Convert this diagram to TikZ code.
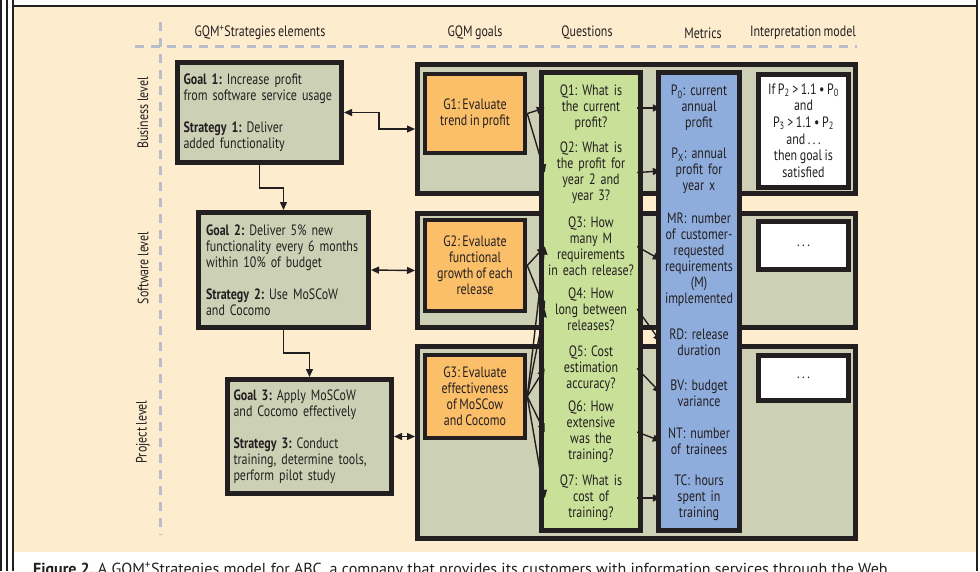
\documentclass[tikz,border=0pt]{standalone}
\usepackage{fontspec}
\setmainfont[FakeStretch=0.8, WordSpace=0.8]{PT Sans}
\newfontfamily\capfont{PT Sans}
\usetikzlibrary{arrows.meta, positioning}
\definecolor{ink}{RGB}{35,31,32}
\definecolor{paper}{RGB}{254,236,206}
\definecolor{khaki}{RGB}{204,208,180}
\definecolor{gorange}{RGB}{251,190,105}
\definecolor{qgreen}{RGB}{200,224,152}
\definecolor{mblue}{RGB}{142,172,220}
\definecolor{dashgray}{RGB}{182,190,204}
\frenchspacing

\begin{document}
\begin{tikzpicture}[
        x=1pt, y=-1pt,
        every node/.style={font=\fontsize{15}{16}\selectfont, text=ink},
        heading/.style={inner sep=0pt},
        levellabel/.style={inner sep=0pt, rotate=90},
        goalbox/.style={rectangle, draw=ink, line width=5pt, fill=khaki, align=left, inner xsep=6pt, inner ysep=0pt},
        levelbox/.style={rectangle, draw=ink, line width=5pt, fill=khaki, minimum width=438pt},
        gbox/.style={rectangle, draw=ink, line width=4.5pt, fill=gorange, minimum width=100pt, align=center},
        qcol/.style={rectangle, draw=ink, line width=5pt, fill=qgreen, minimum width=99pt, minimum height=458pt},
        mcol/.style={rectangle, draw=ink, line width=5pt, fill=mblue, minimum width=81pt, minimum height=458pt},
        imbox/.style={rectangle, draw=ink, line width=5pt, fill=white, minimum width=90pt, align=center},
        qtext/.style={text width=92pt, align=center, inner sep=0pt},
        mtext/.style={text width=76pt, align=center, inner sep=0pt},
        guide/.style={dashgray, line width=3pt, dash pattern=on 9pt off 7pt},
        frame/.style={ink, line width=1.5pt},
        conn/.style={arrows=-{Triangle[length=8pt,width=7pt]}, line width=1.4pt, draw=ink},
        dconn/.style={arrows={Triangle[length=8pt,width=7pt]}-{Triangle[length=8pt,width=7pt]}, line width=1.4pt, draw=ink}
        ]

        \useasboundingbox [fill=white] (0,0) rectangle (980,571);
        \fill [paper] (13,6) rectangle (977,552);
        \draw [frame] (13,6) -- (977,6);
        \draw [frame] (1,0) -- (1,571);
        \draw [frame] (7,0) -- (7,571);
        \draw [frame] (13,0) -- (13,571);
        \draw [frame] (977,0) -- (977,571);

        \draw [guide] (135,46.5) -- (857,46.5);
        \draw [guide] (160,22) -- (160,535);

        \node (hdelem) [heading] at (260,33)  {GQM\textsuperscript{+}Strategies elements};
        \node (hdgoal) [heading] at (475,33)  {GQM goals};
        \node (hdq)    [heading] at (587,33)  {Questions};
        \node (hdm)    [heading] at (703,33)  {Metrics};
        \node (hdim)   [heading] at (803,33)  {Interpretation model};

        \node (lvbus)  [levellabel] at (143,113) {Business level};
        \node (lvsw)   [levellabel] at (143,268) {Software level};
        \node (lvprj)  [levellabel] at (143,432) {Project level};

        \node (lev1) [levelbox, minimum height=129pt] at (636.5,129)   {};
        \node (lev2) [levelbox, minimum height=114pt] at (636.5,270.5) {};
        \node (lev3) [levelbox, minimum height=192pt] at (636.5,442.5) {};

        \node (qcolumn) [qcol] at (591,301.5) {};
        \node (mcolumn) [mcol] at (699,301.5) {};

        \node (g1) [gbox, minimum height=79pt] at (475,113.5) {G1: Evaluate\\trend in profit};
        \node (g2) [gbox, minimum height=91pt] at (475,265.5) {G2: Evaluate\\functional\\growth of each\\release};
        \node (g3) [gbox, minimum height=83pt] at (475,396.5) {G3: Evaluate\\effectiveness\\of MoSCow\\and Cocomo};

        \node (im1) [imbox, minimum height=113pt, font=\fontsize{15}{16.6}\selectfont] at (803.5,130.5) {If\,P\textsubscript{2} > 1.1 • P\textsubscript{0}\\and\\P\textsubscript{3} > 1.1 • P\textsubscript{2}\\and . . .\\then goal is\\satisfied};
        \node (im2) [imbox, minimum height=48pt]  at (803.5,245.5) {. . .};
        \node (im3) [imbox, minimum height=45pt]  at (803.5,378)   {. . .};

        \node (goal1) [goalbox, text width=152pt, minimum height=100pt] at (259.5,112.5)
            {\textbf{Goal 1:} Increase profit\\from software service usage\\[16pt]\textbf{Strategy 1:} Deliver\\added functionality};
        \node (goal2) [goalbox, text width=155pt, inner xsep=7.5pt, minimum height=115pt] at (283.5,270)
            {\textbf{Goal 2:} Deliver 5\% new\\functionality every 6 months\\within 10\% of budget\\[16pt]\textbf{Strategy 2:} Use MoSCoW\\and Cocomo};
        \node (goal3) [goalbox, text width=152pt, minimum height=114pt] at (309.5,436.5)
            {\textbf{Goal 3:} Apply MoSCoW\\and Cocomo effectively\\[16pt]\textbf{Strategy 3:} Conduct\\training, determine tools,\\perform pilot study};

        \node (q1) [qtext] at (591,108)   {Q1: What is\\the current\\profit?};
        \node (q2) [qtext] at (591,172.5) {Q2: What is\\the profit for\\year 2 and\\year 3?};
        \node (q3) [qtext] at (591,246.5) {Q3: How\\many M\\requirements\\in each release?};
        \node (q4) [qtext] at (591,309)   {Q4: How\\long between\\releases?};
        \node (q5) [qtext] at (591,368.5) {Q5: Cost\\estimation\\accuracy?};
        \node (q6) [qtext] at (591,432)   {Q6: How\\extensive\\was the\\training?};
        \node (q7) [qtext] at (591,498)   {Q7: What is\\cost of\\training?};

        \node (m1) [mtext] at (699,108) {P\textsubscript{0}: current\\annual\\profit};
        \node (m2) [mtext] at (699,171) {P\textsubscript{X}: annual\\profit for\\year x};
        \node (m3) [mtext] at (699,260) {MR: number\\of customer-\\requested\\requirements\\(M)\\implemented};
        \node (m4) [mtext] at (699,342) {RD: release\\duration};
        \node (m5) [mtext] at (699,393) {BV: budget\\variance};
        \node (m6) [mtext] at (699,441) {NT: number\\of trainees};
        \node (m7) [mtext] at (699,498) {TC: hours\\spent in\\training};

        \node (caption) [anchor=north west, inner sep=0pt, font=\capfont\fontsize{16}{18}\selectfont] at (33,562)
            {\textbf{Figure 2.} A GQM\textsuperscript{+}Strategies model for ABC, a company that provides its customers with information services through the Web.};

        \draw [conn] (goal1.south) -- ++(0,23) -| (goal2.north);
        \draw [conn] (goal2.south) -- ++(0,23) -| (goal3.north);
        \draw [dconn] (goal1.east) -- ++(35,0) |- (lev1.west);
        \draw [dconn] (goal2.east) -- (lev2.west);
        \draw [dconn] (goal3.east) -- (goal3.east -| lev3.west);

        \draw [conn] (g1.east) -- (q1.west);
        \draw [conn] (g1.east) -- (q2.west);
        \draw [conn] (g2.east) -- (q3.west);
        \draw [conn] (g2.east) -- (q4.west);
        \draw [conn] (g3.east) -- (q3.west);
        \draw [conn] (g3.east) -- (q4.west);
        \draw [conn] (g3.east) -- (q5.west);
        \draw [conn] (g3.east) -- (q6.west);
        \draw [conn] (g3.east) -- (q7.west);

        \draw [conn] (q1.east) -- (m1.west);
        \draw [conn] (q2.east) -- (m2.west);
        \draw [conn] (q3.east) -- (m3.west);
        \draw [conn] (q4.east) -- (m4.west);
        \draw [conn] (q5.east) -- (m5.west);
        \draw [conn] (q6.east) -- (m6.west);
        \draw [conn] (q7.east) -- (m7.west);

    \end{tikzpicture}
\end{document}
